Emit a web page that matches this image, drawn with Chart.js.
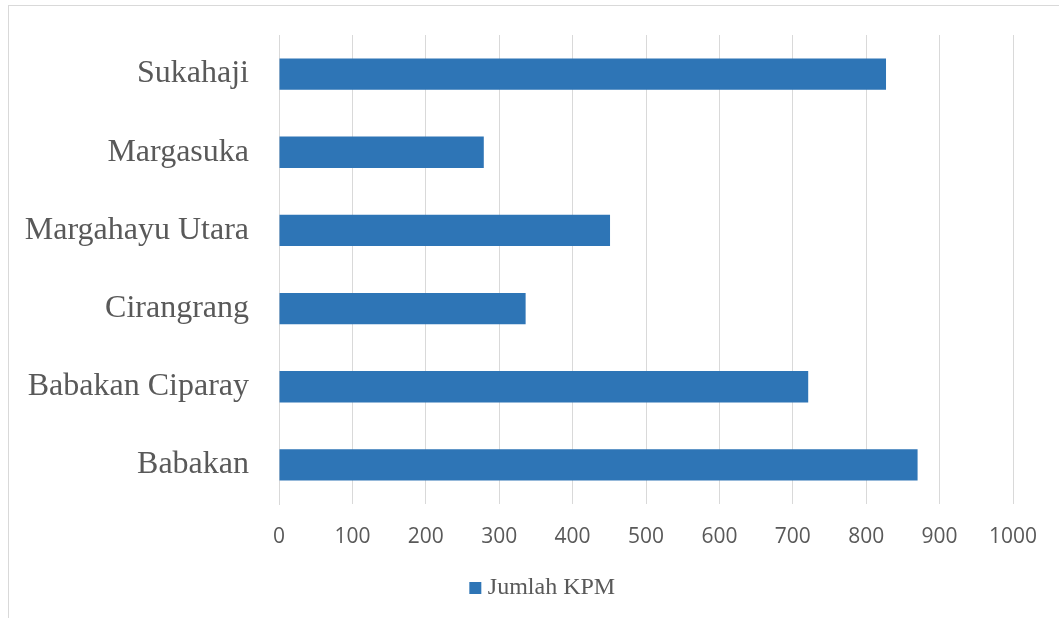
<!DOCTYPE html>
<html>
<head>
<meta charset="utf-8">
<script src="https://cdn.jsdelivr.net/npm/chart.js@4"></script>
<style>
  html, body { margin: 0; padding: 0; background: #fff; }
  #wrap { position: relative; width: 1059px; height: 618px; }
  #frame { position: absolute; left: 8px; top: 5px; right: 0; bottom: 0;
           border-top: 1px solid #d9d9d9; border-left: 1px solid #d9d9d9; pointer-events: none; }
  canvas { position: absolute; left: 0; top: 0; }
</style>
</head>
<body>
<div id="wrap">
  <canvas id="GraficoKPM" width="1059" height="618"></canvas>
  <div id="frame"></div>
</div>
<script>
// data
var kelurahan = ['Sukahaji', 'Margasuka', 'Margahayu Utara', 'Cirangrang', 'Babakan Ciparay', 'Babakan'];
var jumlahKPM = [827, 279, 451, 336, 721, 870];
var sumbuX = [0, 100, 200, 300, 400, 500, 600, 700, 800, 900, 1000];

// mover la leyenda a la derecha (como en el original)
var moverLeyenda = {
  id: 'moverLeyenda',
  afterLayout: function(chart) {
    var lg = chart.legend;
    if (lg) { lg.left += 33.5; lg.right += 33.5; }
  }
};

var ctx = document.getElementById('GraficoKPM').getContext('2d');
var grafico = new Chart(ctx, {
  type: 'bar',
  data: {
    labels: kelurahan,
    datasets: [{
      label: 'Jumlah KPM',
      data: jumlahKPM,
      backgroundColor: '#2e75b6',
      borderWidth: 0,
      barPercentage: 0.4,
      categoryPercentage: 1
    }]
  },
  options: {
    indexAxis: 'y',
    responsive: false,
    animation: false,
    layout: { padding: { left: 10, right: 46, top: 35, bottom: 8 } },
    plugins: {
      tooltip: { enabled: false },
      legend: {
        position: 'bottom',
        labels: {
          usePointStyle: true,
          pointStyle: 'rect',
          boxWidth: 1,
          boxHeight: 12,
          padding: 10,
          color: '#595959',
          font: { family: '"Liberation Serif", "Times New Roman", serif', size: 24 }
        }
      }
    },
    scales: {
      x: {
        min: sumbuX[0],
        max: sumbuX[sumbuX.length - 1],
        afterBuildTicks: function(scale) {
          scale.ticks = sumbuX.map(function(v) { return { value: v }; });
        },
        afterFit: function(scale) { scale.height = 62; },
        grid: { color: '#d9d9d9', lineWidth: 1, drawTicks: false },
        border: { display: false },
        ticks: {
          padding: 20,
          color: '#595959',
          callback: function(v) { return String(v); },
          font: { family: '"Open Sans", "Liberation Sans", sans-serif', size: 21 }
        }
      },
      y: {
        afterFit: function(scale) {
          scale.width = 279 - 10;
          scale.paddingTop = 0;
          scale.paddingBottom = 0;
        },
        grid: { display: false, drawTicks: false },
        border: { display: true, color: '#d9d9d9', width: 1 },
        ticks: {
          padding: 30,
          color: '#595959',
          font: { family: '"Liberation Serif", "Times New Roman", serif', size: 32 }
        }
      }
    }
  },
  plugins: [moverLeyenda]
});
</script>
</body>
</html>
